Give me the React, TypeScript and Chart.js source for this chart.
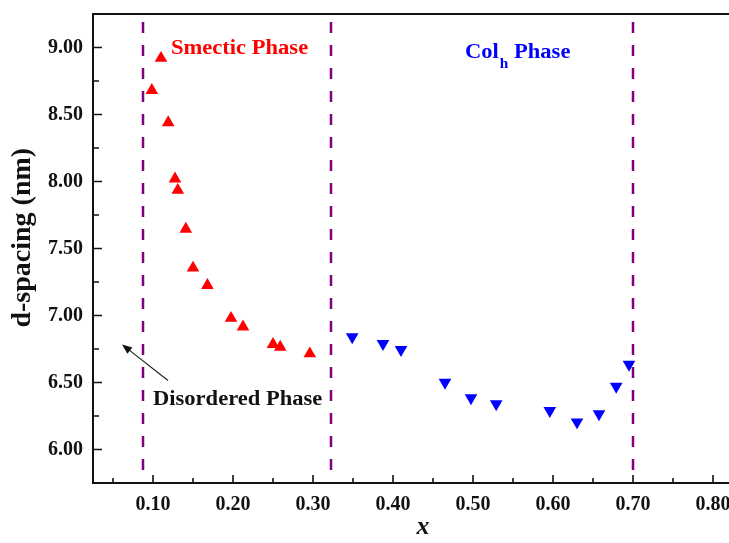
import React, { useEffect, useRef } from "react";
import { Chart, registerables } from "chart.js";

Chart.register(...registerables);

// ---- Data ----
const smecticX = [0.0985, 0.11, 0.119, 0.1275, 0.131, 0.141, 0.15, 0.168, 0.1975, 0.2125, 0.25, 0.259, 0.296];
const smecticY = [8.68, 8.92, 8.44, 8.02, 7.935, 7.645, 7.355, 7.225, 6.98, 6.915, 6.785, 6.765, 6.715];

const colhX = [0.349, 0.3875, 0.41, 0.465, 0.4975, 0.529, 0.596, 0.63, 0.6575, 0.679, 0.695];
const colhY = [6.84, 6.79, 6.745, 6.5, 6.385, 6.34, 6.29, 6.205, 6.265, 6.47, 6.635];

const boundaryX = [0.0875, 0.3225, 0.7];
const boundaryYTop = 9.19;
const boundaryYBottom = 5.83;

const xTickValues = [0.1, 0.2, 0.3, 0.4, 0.5, 0.6, 0.7, 0.8];
const yTickValues = [6.0, 6.5, 7.0, 7.5, 8.0, 8.5, 9.0];

const xMin = 0.025;
const xMax = 0.85;
const yMin = 5.75;
const yMax = 9.25;

const SERIF = '"Liberation Serif", "Times New Roman", serif';
const AXIS_COLOR = "#111111";
const PURPLE = "#800080";
const TEXT_STRETCH = 1.1;

function drawStretched(ctx: CanvasRenderingContext2D, text: string, x: number, y: number) {
  ctx.save();
  ctx.translate(x, y);
  ctx.scale(TEXT_STRETCH, 1);
  ctx.fillText(text, 0, 0);
  ctx.restore();
  return ctx.measureText(text).width * TEXT_STRETCH;
}

const framePlugin = {
  id: "frameAndNotes",
  afterDraw(chart: any) {
    const { ctx, chartArea, scales } = chart;
    const xs = scales.x;
    const ys = scales.y;
    ctx.save();
    // top and right frame
    ctx.strokeStyle = AXIS_COLOR;
    ctx.lineWidth = 2;
    ctx.beginPath();
    ctx.moveTo(chartArea.left, chartArea.top);
    ctx.lineTo(chartArea.right, chartArea.top);
    ctx.lineTo(chartArea.right, chartArea.bottom);
    ctx.stroke();

    // inward ticks
    ctx.lineWidth = 1.6;
    ctx.beginPath();
    const xMinor: number[] = [];
    for (let i = 0; i < xTickValues.length; i++) {
      xMinor.push(xTickValues[i] - 0.05);
    }
    xMinor.push(xTickValues[xTickValues.length - 1] + 0.05);
    xTickValues.forEach((v) => {
      const px = xs.getPixelForValue(v);
      ctx.moveTo(px, chartArea.bottom);
      ctx.lineTo(px, chartArea.bottom - 8);
    });
    xMinor.forEach((v) => {
      if (v <= xMin || v >= xMax) return;
      const px = xs.getPixelForValue(v);
      ctx.moveTo(px, chartArea.bottom);
      ctx.lineTo(px, chartArea.bottom - 5);
    });
    yTickValues.forEach((v) => {
      const py = ys.getPixelForValue(v);
      ctx.moveTo(chartArea.left, py);
      ctx.lineTo(chartArea.left + 9, py);
    });
    yTickValues.forEach((v) => {
      const m = v + 0.25;
      if (m >= yMax || m <= yMin) return;
      const py = ys.getPixelForValue(m);
      ctx.moveTo(chartArea.left, py);
      ctx.lineTo(chartArea.left + 6, py);
    });
    ctx.stroke();

    // annotations
    ctx.textAlign = "left";
    ctx.textBaseline = "alphabetic";
    ctx.fillStyle = "#ff0000";
    ctx.font = `bold 20.5px ${SERIF}`;
    drawStretched(ctx, "Smectic Phase", xs.getPixelForValue(0.1225), ys.getPixelForValue(8.955));

    ctx.fillStyle = "#0000ff";
    let cx = xs.getPixelForValue(0.49);
    const cy = ys.getPixelForValue(8.925);
    ctx.font = `bold 20.5px ${SERIF}`;
    cx += drawStretched(ctx, "Col", cx, cy) + 1;
    ctx.font = `bold 14px ${SERIF}`;
    cx += drawStretched(ctx, "h", cx, cy + 10);
    ctx.font = `bold 20.5px ${SERIF}`;
    drawStretched(ctx, " Phase", cx, cy);

    ctx.fillStyle = "#111111";
    ctx.font = `bold 20.5px ${SERIF}`;
    drawStretched(ctx, "Disordered Phase", xs.getPixelForValue(0.1), ys.getPixelForValue(6.33));

    // arrow
    const tx = xs.getPixelForValue(0.11875);
    const ty = ys.getPixelForValue(6.515);
    const hx = xs.getPixelForValue(0.06125);
    const hy = ys.getPixelForValue(6.784);
    const ang = Math.atan2(hy - ty, hx - tx);
    ctx.strokeStyle = "#222222";
    ctx.lineWidth = 1.2;
    ctx.beginPath();
    ctx.moveTo(tx, ty);
    ctx.lineTo(hx - Math.cos(ang) * 6, hy - Math.sin(ang) * 6);
    ctx.stroke();
    ctx.fillStyle = "#111111";
    ctx.beginPath();
    ctx.moveTo(hx, hy);
    ctx.lineTo(hx - Math.cos(ang) * 10 - Math.sin(ang) * 4, hy - Math.sin(ang) * 10 + Math.cos(ang) * 4);
    ctx.lineTo(hx - Math.cos(ang) * 10 + Math.sin(ang) * 4, hy - Math.sin(ang) * 10 - Math.cos(ang) * 4);
    ctx.closePath();
    ctx.fill();

    // y axis title
    ctx.save();
    ctx.translate(chartArea.left - 70, chartArea.top + (chartArea.bottom - chartArea.top) * 0.477);
    ctx.rotate(-Math.PI / 2);
    ctx.textAlign = "center";
    ctx.textBaseline = "middle";
    ctx.fillStyle = "#111111";
    ctx.font = `bold 28px ${SERIF}`;
    ctx.fillText("d-spacing (nm)", 0, 0);
    ctx.restore();

    ctx.restore();
  },
};

export default function App() {
  const canvasRef = useRef<HTMLCanvasElement | null>(null);

  useEffect(() => {
    const canvas = canvasRef.current;
    if (!canvas) return;

    const boundaryDatasets = boundaryX.map((bx) => ({
      type: "scatter" as const,
      data: [
        { x: bx, y: boundaryYTop },
        { x: bx, y: boundaryYBottom },
      ],
      showLine: true,
      borderColor: PURPLE,
      borderWidth: 2.5,
      borderDash: [11, 12],
      pointRadius: 0,
      order: 5,
    }));

    const chart = new Chart(canvas, {
      type: "scatter",
      data: {
        datasets: [
          {
            label: "Smectic",
            data: smecticX.map((x, i) => ({ x, y: smecticY[i] })),
            pointStyle: "triangle",
            pointRadius: 7.3,
            pointBackgroundColor: "#ff0000",
            pointBorderColor: "#ff0000",
            pointBorderWidth: 0,
            order: 1,
          },
          {
            label: "Colh",
            data: colhX.map((x, i) => ({ x, y: colhY[i] })),
            pointStyle: "triangle",
            rotation: 180,
            pointRadius: 7.3,
            pointBackgroundColor: "#0000ff",
            pointBorderColor: "#0000ff",
            pointBorderWidth: 0,
            order: 1,
          } as any,
          ...boundaryDatasets,
        ],
      },
      options: {
        responsive: false,
        animation: false,
        devicePixelRatio: 1,
        layout: { padding: { left: 0, top: 14, right: 27, bottom: 0 } },
        plugins: {
          legend: { display: false },
          tooltip: { enabled: false },
        },
        scales: {
          x: {
            type: "linear",
            min: xMin,
            max: xMax,
            grid: { display: false, drawTicks: false },
            border: { display: true, width: 2, color: AXIS_COLOR },
            ticks: {
              padding: 10,
              color: "#111111",
              font: { family: SERIF, size: 20, weight: "bold" },
              callback: (v: any) => Number(v).toFixed(2),
              maxRotation: 0,
              autoSkip: false,
            },
            afterBuildTicks: (scale: any) => {
              scale.ticks = xTickValues.map((v) => ({ value: v }));
            },
            afterFit: (scale: any) => {
              scale.height = 60;
              scale.paddingLeft = 0;
              scale.paddingRight = 0;
            },
            title: {
              display: true,
              text: "x",
              color: "#111111",
              font: { family: SERIF, size: 26, weight: "bold", style: "italic" },
              padding: { top: 0, bottom: 0 },
            },
          },
          y: {
            type: "linear",
            min: yMin,
            max: yMax,
            grid: { display: false, drawTicks: false },
            border: { display: true, width: 2, color: AXIS_COLOR },
            ticks: {
              padding: 10,
              color: "#111111",
              font: { family: SERIF, size: 20, weight: "bold" },
              callback: (v: any) => Number(v).toFixed(2),
              autoSkip: false,
            },
            afterBuildTicks: (scale: any) => {
              scale.ticks = yTickValues.map((v) => ({ value: v }));
            },
            afterFit: (scale: any) => {
              scale.width = 93;
              scale.paddingTop = 0;
              scale.paddingBottom = 0;
            },
          },
        },
      },
      plugins: [framePlugin],
    } as any);

    return () => {
      chart.destroy();
    };
  }, []);

  return (
    <div
      style={{
        position: "fixed",
        left: 0,
        top: 0,
        width: 729,
        height: 543,
        overflow: "hidden",
        background: "#ffffff",
      }}
    >
      <canvas ref={canvasRef} width={780} height={543} style={{ display: "block" }} />
    </div>
  );
}
